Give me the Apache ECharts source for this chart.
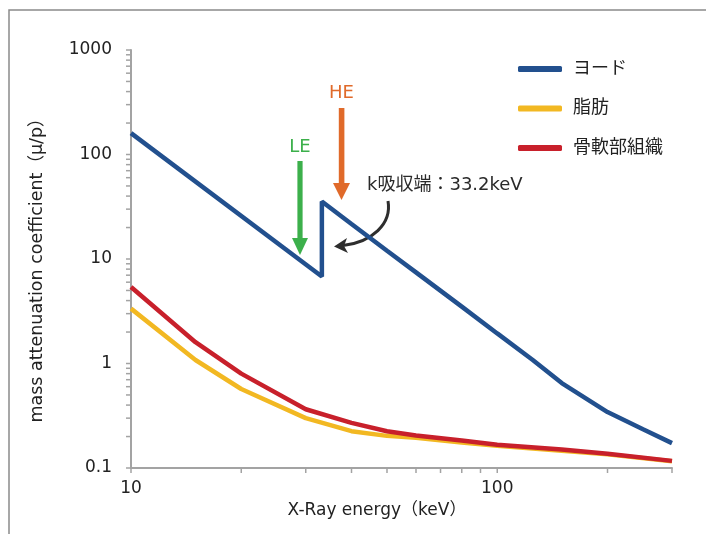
<!DOCTYPE html>
<html><head><meta charset="utf-8">
<script src="https://cdn.jsdelivr.net/npm/echarts@6/dist/echarts.min.js"></script>
<style>html,body{margin:0;padding:0;background:#fff}#c{width:706px;height:534px}</style>
</head><body><div id="c"></div>
<script>
// ---- data ----
const seriesNames = ['ヨード', '脂肪', '骨軟部組織'];
const energyIodine = [10, 33.2, 33.2, 40, 50, 60, 80, 100, 125, 150, 200, 250, 300];
const iodine       = [160, 6.8, 35.5, 21.6, 12.0, 7.45, 3.5, 1.94, 1.08, 0.65, 0.343, 0.235, 0.173];
const energyTissue = [10, 15, 20, 30, 40, 50, 60, 80, 100, 150, 200, 300];
const fat          = [3.35, 1.08, 0.57, 0.30, 0.225, 0.203, 0.195, 0.175, 0.163, 0.146, 0.135, 0.116];
const softTissue   = [5.4, 1.6, 0.8, 0.365, 0.27, 0.225, 0.205, 0.183, 0.167, 0.15, 0.137, 0.117];
const xTickValues  = [10, 20, 30, 40, 50, 60, 70, 80, 90, 100, 200, 300];
const yTickValues  = [0.1,0.2,0.3,0.4,0.5,0.6,0.7,0.8,0.9,1,2,3,4,5,6,7,8,9,10,20,30,40,50,60,70,80,90,100,200,300,400,500,600,700,800,900,1000];
const xLabelValues = [10, 100];
const yLabelValues = [0.1, 1, 10, 100, 1000];
const xTitle = 'X-Ray energy（keV）';
const yTitle = 'mass attenuation coefficient（μ/p）';
const edgeNote = 'k吸収端：33.2keV';

const FONT = '"DejaVu Sans", "Noto Sans CJK JP", sans-serif';
const AX = '#a3a3a3';
const pairs = (xs, ys) => xs.map((x, i) => [x, ys[i]]);

const chart = echarts.init(document.getElementById('c'), null, {renderer: 'canvas'});
const fmtNum = v => String(Number(v.toPrecision(3)));

chart.setOption({
  animation: false,
  backgroundColor: '#fff',
  grid: {left: 131, right: 34, top: 50, bottom: 66},
  legend: {
    data: seriesNames, orient: 'vertical', left: 513, top: 55,
    itemWidth: 44, itemHeight: 6, itemGap: 21.5, icon: 'roundRect',
    textStyle: {fontSize: 18, color: '#222', fontFamily: FONT, padding: [0, 0, 0, 6]}
  },
  xAxis: {
    type: 'log', logBase: 10, min: 10, max: 300,
    axisLine: {show: true, lineStyle: {color: AX, width: 2}},
    axisTick: {show: false}, splitLine: {show: false},
    axisLabel: {
      margin: 12, fontSize: 17, color: '#222', fontFamily: FONT, showMaxLabel: false,
      formatter: v => xLabelValues.some(t => Math.abs(t - v) / t < 1e-6) ? fmtNum(v) : ''
    }
  },
  yAxis: {
    type: 'log', logBase: 10, min: 0.1, max: 1000,
    axisLine: {show: true, lineStyle: {color: AX, width: 2}},
    axisTick: {show: false}, splitLine: {show: false},
    axisLabel: {
      margin: 19, fontSize: 17, color: '#222', fontFamily: FONT,
      formatter: v => yLabelValues.some(t => Math.abs(t - v) / t < 1e-6) ? fmtNum(v) : ''
    }
  },
  series: [
    {type: 'custom', silent: true, z: 1, clip: false,
     data: xTickValues.map(v => [v, yTickValues[0]]),
     renderItem: (p, api) => {
       const pt = api.coord([api.value(0), api.value(1)]);
       return {type: 'line', shape: {x1: pt[0], y1: pt[1], x2: pt[0], y2: pt[1] + 5}, style: {stroke: AX, lineWidth: 1.5}};
     }},
    {type: 'custom', silent: true, z: 1, clip: false,
     data: yTickValues.map(v => [xTickValues[0], v]),
     renderItem: (p, api) => {
       const pt = api.coord([api.value(0), api.value(1)]);
       return {type: 'line', shape: {x1: pt[0] - 5, y1: pt[1], x2: pt[0], y2: pt[1]}, style: {stroke: AX, lineWidth: 1.5}};
     }},
    {name: seriesNames[1], type: 'line', data: pairs(energyTissue, fat), showSymbol: false, z: 3,
     color: '#f2b822', lineStyle: {width: 4.5, color: '#f2b822'}},
    {name: seriesNames[2], type: 'line', data: pairs(energyTissue, softTissue), showSymbol: false, z: 4,
     color: '#c8202b', lineStyle: {width: 4.5, color: '#c8202b'}},
    {name: seriesNames[0], type: 'line', data: pairs(energyIodine, iodine), showSymbol: false, z: 5,
     color: '#22508e', lineStyle: {width: 4.5, color: '#22508e'}}
  ],
  graphic: [
    {type: 'rect', z: 0, shape: {x: 9, y: 10, width: 720, height: 540}, style: {fill: 'none', stroke: '#8a8a8a', lineWidth: 1.5}},
    {type: 'text', x: 377, y: 511, style: {text: xTitle, font: '17px ' + FONT, fill: '#222', textAlign: 'center', textVerticalAlign: 'middle'}},
    {type: 'text', x: 37, y: 266, rotation: Math.PI / 2, style: {text: yTitle, font: '17.5px ' + FONT, fill: '#222', textAlign: 'center', textVerticalAlign: 'middle'}},
    // LE arrow
    {type: 'text', x: 300, y: 147, style: {text: 'LE', font: '18px ' + FONT, fill: '#3cb04b', textAlign: 'center', textVerticalAlign: 'middle'}},
    {type: 'rect', shape: {x: 297.4, y: 161, width: 5.2, height: 79}, style: {fill: '#3cb04b'}},
    {type: 'polygon', shape: {points: [[292, 238], [308, 238], [300, 255]]}, style: {fill: '#3cb04b'}},
    // HE arrow
    {type: 'text', x: 341.5, y: 93, style: {text: 'HE', font: '18px ' + FONT, fill: '#e06a2a', textAlign: 'center', textVerticalAlign: 'middle'}},
    {type: 'rect', shape: {x: 338.8, y: 108, width: 5.6, height: 77}, style: {fill: '#e06a2a'}},
    {type: 'polygon', shape: {points: [[333, 183], [350, 183], [341.5, 200]]}, style: {fill: '#e06a2a'}},
    // k-edge note
    {type: 'text', x: 367, y: 185, style: {text: edgeNote, font: '18px ' + FONT, fill: '#2a2a2a', textAlign: 'left', textVerticalAlign: 'middle'}},
    {type: 'bezierCurve', shape: {x1: 388, y1: 201, cpx1: 392, cpy1: 224, cpx2: 372, cpy2: 242, x2: 343, y2: 245.5}, style: {stroke: '#2e2e2e', lineWidth: 3, fill: 'none'}},
    {type: 'polygon', shape: {points: [[334, 246.5], [347, 238], [344, 246], [348, 253]]}, style: {fill: '#2e2e2e'}}
  ]
});
</script>
</body></html>
